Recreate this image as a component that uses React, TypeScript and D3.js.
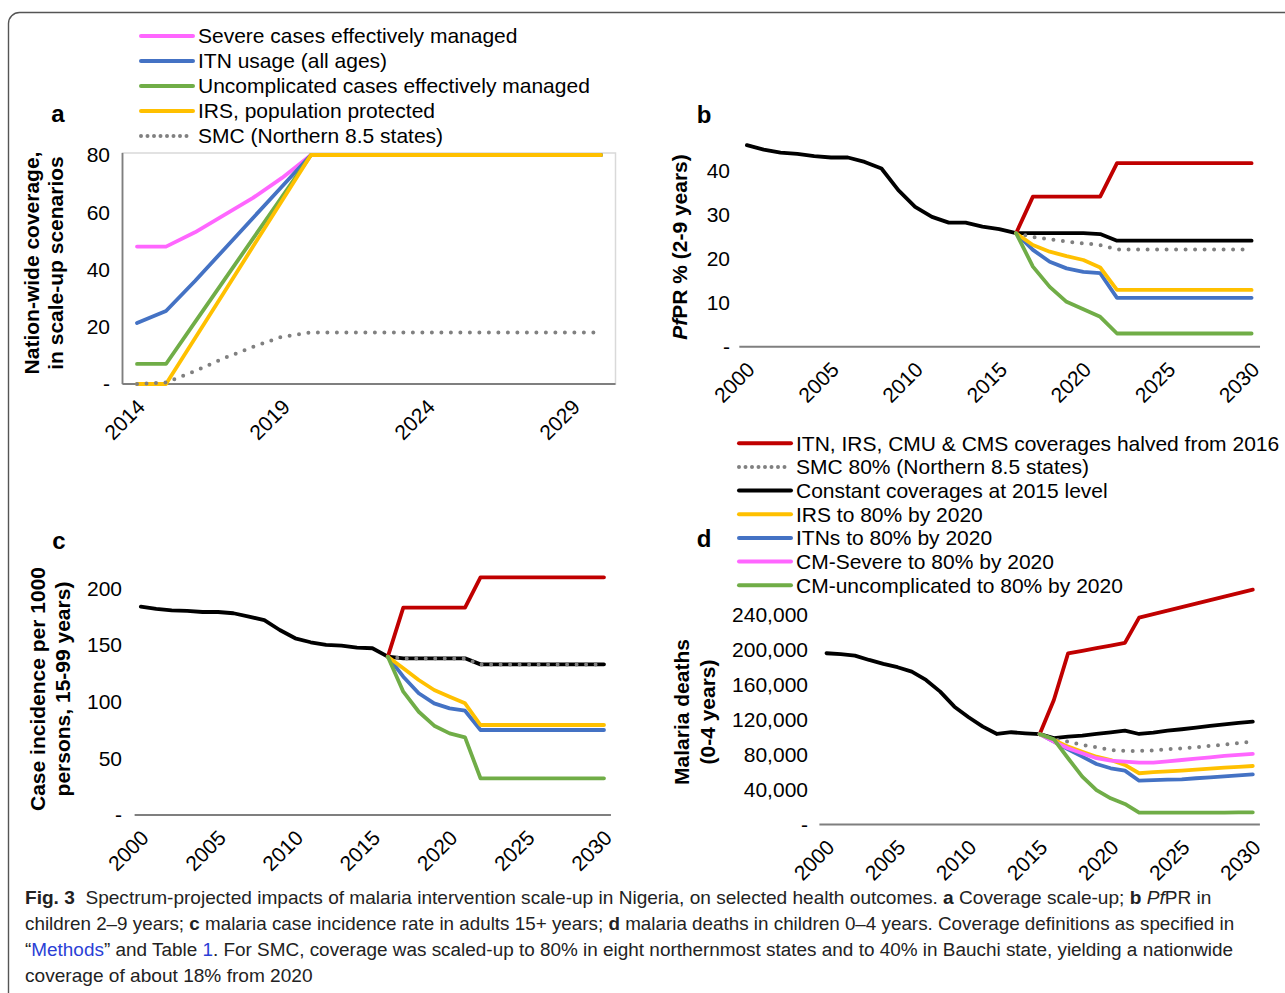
import React, { useLayoutEffect, useRef } from "react";
import * as d3 from "d3";

const FONT = "'Liberation Sans', Arial, Helvetica, sans-serif";

const COL = {
  red: "#c00000",
  grey: "#808080",
  black: "#000000",
  yellow: "#ffc000",
  blue: "#4472c4",
  pink: "#ff66ff",
  green: "#70ad47",
};

// ---------- Panel a: coverage scale-up ----------
const yearsA = [2014, 2015, 2016, 2017, 2018, 2019, 2020, 2021, 2022, 2023, 2024, 2025, 2026, 2027, 2028, 2029, 2030];
const aSevere = [48, 48, 53, 59, 65, 72, 80, 80, 80, 80, 80, 80, 80, 80, 80, 80, 80];
const aITN = [21.3, 25.5, 36, 47, 58, 69, 80, 80, 80, 80, 80, 80, 80, 80, 80, 80, 80];
const aUncomp = [7, 7, 21.6, 36.2, 50.8, 65.4, 80, 80, 80, 80, 80, 80, 80, 80, 80, 80, 80];
const aIRS = [0, 0, 16, 32, 48, 64, 80, 80, 80, 80, 80, 80, 80, 80, 80, 80, 80];
const aSMC = [0, 0.5, 4.5, 9, 13, 16.5, 18, 18, 18, 18, 18, 18, 18, 18, 18, 18, 18];
const aTicksY = [0, 20, 40, 60, 80];
const aTicksX = [2014, 2019, 2024, 2029];
const aLegend = [
  "Severe cases effectively managed",
  "ITN usage (all ages)",
  "Uncomplicated cases effectively managed",
  "IRS, population protected",
  "SMC (Northern 8.5 states)",
];

// ---------- Panels b, c: history 2000-2016, projections 2016-2030 ----------
const histYearsBC = [2000, 2001, 2002, 2003, 2004, 2005, 2006, 2007, 2008, 2009, 2010, 2011, 2012, 2013, 2014, 2015, 2016];
const projYearsBC = [2016, 2017, 2018, 2019, 2020, 2021, 2022, 2023, 2024, 2025, 2026, 2027, 2028, 2029, 2030];

const bHist = [45.8, 44.8, 44.1, 43.8, 43.3, 43.0, 43.0, 42.0, 40.5, 35.6, 31.8, 29.5, 28.2, 28.2, 27.3, 26.7, 25.8];
const bConst = [25.8, 25.8, 25.8, 25.8, 25.8, 25.6, 24.1, 24.1, 24.1, 24.1, 24.1, 24.1, 24.1, 24.1, 24.1];
const bSMC = [25.8, 24.9, 24.4, 23.9, 23.5, 23.1, 22.1, 22.1, 22.1, 22.1, 22.1, 22.1, 22.1, 22.1, 22.1];
const bRed = [25.8, 34.1, 34.1, 34.1, 34.1, 34.1, 41.7, 41.7, 41.7, 41.7, 41.7, 41.7, 41.7, 41.7, 41.7];
const bIRS = [25.8, 23.1, 21.6, 20.6, 19.7, 18.0, 12.9, 12.9, 12.9, 12.9, 12.9, 12.9, 12.9, 12.9, 12.9];
const bITN = [25.8, 22.0, 19.3, 17.8, 17.0, 16.7, 11.1, 11.1, 11.1, 11.1, 11.1, 11.1, 11.1, 11.1, 11.1];
const bCMU = [25.8, 18.2, 13.6, 10.2, 8.5, 6.8, 3.0, 3.0, 3.0, 3.0, 3.0, 3.0, 3.0, 3.0, 3.0];
const bTicksY = [0, 10, 20, 30, 40];

const cHist = [183.8, 181.8, 180.6, 180.0, 179.1, 179.1, 178.0, 175.0, 172.0, 163.2, 155.9, 152.4, 150.0, 149.4, 147.6, 147.1, 139.7];
const cConst = [139.7, 138.2, 138.2, 138.2, 138.2, 138.2, 132.9, 132.9, 132.9, 132.9, 132.9, 132.9, 132.9, 132.9, 132.9];
const cSMC = [139.7, 138.0, 138.0, 138.0, 138.0, 138.0, 132.7, 132.7, 132.7, 132.7, 132.7, 132.7, 132.7, 132.7, 132.7];
const cRed = [139.7, 182.9, 182.9, 182.9, 182.9, 182.9, 209.7, 209.7, 209.7, 209.7, 209.7, 209.7, 209.7, 209.7, 209.7];
const cIRS = [139.7, 129.4, 119.1, 110.3, 104.4, 98.5, 79.4, 79.4, 79.4, 79.4, 79.4, 79.4, 79.4, 79.4, 79.4];
const cITN = [139.7, 122.0, 107.4, 98.5, 94.1, 92.0, 75.0, 75.0, 75.0, 75.0, 75.0, 75.0, 75.0, 75.0, 75.0];
const cCMU = [139.7, 108.8, 91.1, 78.8, 72.0, 68.5, 32.4, 32.4, 32.4, 32.4, 32.4, 32.4, 32.4, 32.4, 32.4];
const cTicksY = [0, 50, 100, 150, 200];

// ---------- Panel d: history 2000-2015, projections 2015-2030 ----------
const histYearsD = [2000, 2001, 2002, 2003, 2004, 2005, 2006, 2007, 2008, 2009, 2010, 2011, 2012, 2013, 2014, 2015];
const projYearsD = [2015, 2016, 2017, 2018, 2019, 2020, 2021, 2022, 2023, 2024, 2025, 2026, 2027, 2028, 2029, 2030];
const dHist = [196200, 195100, 193500, 188500, 184000, 180200, 175100, 165600, 152200, 135000, 122900, 112100, 103700, 105700, 104500, 103500];
const dConst = [103500, 99000, 100600, 101800, 103700, 105600, 107500, 103700, 105200, 107500, 109100, 110900, 112900, 114800, 116300, 117800];
const dSMC = [103500, 97600, 94900, 91100, 88400, 85400, 84200, 84200, 85000, 86200, 87300, 88600, 90000, 91600, 93200, 94900];
const dRed = [103500, 142700, 196000, 199000, 202000, 205000, 208000, 237000, 241000, 245000, 249000, 253000, 257000, 261000, 265000, 269000];
const dIRS = [103500, 96800, 89200, 83400, 77700, 73900, 68200, 58700, 59900, 60800, 61700, 62900, 64000, 65100, 66000, 67000];
const dITN = [103500, 94900, 86200, 77700, 69300, 64400, 61700, 50200, 50900, 51300, 51800, 53000, 54100, 55200, 56300, 57500];
const dSevere = [103500, 94900, 87300, 81600, 75900, 73100, 72000, 70800, 70800, 72400, 73900, 75500, 77000, 78600, 79700, 80800];
const dCMU = [103500, 97500, 75900, 54800, 39500, 30000, 23500, 13500, 13500, 13500, 13500, 13500, 13500, 13500, 14000, 14000];
const dTicksY = [0, 40000, 80000, 120000, 160000, 200000, 240000];

const ticksX = [2000, 2005, 2010, 2015, 2020, 2025, 2030];

const bdLegend = [
  { label: "ITN, IRS, CMU & CMS coverages halved from 2016", color: COL.red, dotted: false },
  { label: "SMC 80% (Northern 8.5 states)", color: COL.grey, dotted: true },
  { label: "Constant coverages at 2015 level", color: COL.black, dotted: false },
  { label: "IRS to 80% by 2020", color: COL.yellow, dotted: false },
  { label: "ITNs to 80% by 2020", color: COL.blue, dotted: false },
  { label: "CM-Severe to 80% by 2020", color: COL.pink, dotted: false },
  { label: "CM-uncomplicated to 80% by 2020", color: COL.green, dotted: false },
];

const zip = (xs: number[], ys: number[]) => xs.map((x, i) => [x, ys[i]] as [number, number]);

function FitText(props: { x: number; y: number; width: number; fontSize: number; children: React.ReactNode }) {
  const ref = useRef<SVGTextElement>(null);
  useLayoutEffect(() => {
    const el = ref.current;
    if (!el) return;
    const w = el.getComputedTextLength();
    const k = w > 0 ? props.width / w : 1;
    el.setAttribute("transform", `translate(${props.x},${props.y}) scale(${k},1)`);
  }, []);
  return (
    <text ref={ref} transform={`translate(${props.x},${props.y})`} fontSize={props.fontSize} fill="#222" style={{ whiteSpace: "pre" }}>
      {props.children}
    </text>
  );
}

type S = { pts: [number, number][]; color: string; dotted?: boolean };

function Lines({ series, x, y }: { series: S[]; x: d3.ScaleLinear<number, number>; y: d3.ScaleLinear<number, number> }) {
  const line = d3.line<[number, number]>().x((d) => x(d[0])).y((d) => y(d[1]));
  return (
    <g fill="none">
      {series.map((s, i) => (
        <path
          key={i}
          d={line(s.pts) || ""}
          stroke={s.color}
          strokeWidth={s.dotted ? 4 : 3.8}
          strokeLinejoin="round"
          strokeLinecap="round"
          strokeDasharray={s.dotted ? "0 9.5" : undefined}
        />
      ))}
    </g>
  );
}

function XLabels({ ticks, x, axisY }: { ticks: number[]; x: d3.ScaleLinear<number, number>; axisY: number }) {
  return (
    <g fontSize={21}>
      {ticks.map((t) => (
        <text key={t} transform={`translate(${x(t) + 4},${axisY + 19}) rotate(-45)`} textAnchor="end" dy="0.35em">
          {t}
        </text>
      ))}
    </g>
  );
}

function YLabels({ ticks, y, right, fmt }: { ticks: number[]; y: d3.ScaleLinear<number, number>; right: number; fmt: (v: number) => string }) {
  return (
    <g fontSize={21} textAnchor="end">
      {ticks.map((t) => (
        <text key={t} x={right} y={y(t)} dy="0.35em">
          {t === 0 ? "-" : fmt(t)}
        </text>
      ))}
    </g>
  );
}

export default function App() {
  // scales
  const xA = d3.scaleLinear().domain([2014, 2030]).range([137, 601]);
  const yA = d3.scaleLinear().domain([0, 80]).range([384, 155]);
  const xB = d3.scaleLinear().domain([2000, 2030]).range([746.9, 1251.6]);
  const yB = d3.scaleLinear().domain([0, 40]).range([346.7, 170.7]);
  const xC = d3.scaleLinear().domain([2000, 2030]).range([140.8, 604]);
  const yC = d3.scaleLinear().domain([0, 200]).range([815, 588.3]);
  const xD = d3.scaleLinear().domain([2000, 2030]).range([826.5, 1252.8]);
  const yD = d3.scaleLinear().domain([0, 240000]).range([824.5, 615]);

  const seriesA: S[] = [
    { pts: zip(yearsA, aSevere), color: COL.pink },
    { pts: zip(yearsA, aITN), color: COL.blue },
    { pts: zip(yearsA, aUncomp), color: COL.green },
    { pts: zip(yearsA, aIRS), color: COL.yellow },
    { pts: zip(yearsA, aSMC), color: COL.grey, dotted: true },
  ];
  const aColors = [COL.pink, COL.blue, COL.green, COL.yellow, COL.grey];

  const seriesB: S[] = [
    { pts: zip(histYearsBC, bHist).concat(zip(projYearsBC, bConst)), color: COL.black },
    { pts: zip(projYearsBC, bSMC), color: COL.grey, dotted: true },
    { pts: zip(projYearsBC, bRed), color: COL.red },
    { pts: zip(projYearsBC, bITN), color: COL.blue },
    { pts: zip(projYearsBC, bIRS), color: COL.yellow },
    { pts: zip(projYearsBC, bCMU), color: COL.green },
  ];
  const seriesC: S[] = [
    { pts: zip(histYearsBC, cHist).concat(zip(projYearsBC, cConst)), color: COL.black },
    { pts: zip(projYearsBC, cSMC), color: COL.grey, dotted: true },
    { pts: zip(projYearsBC, cRed), color: COL.red },
    { pts: zip(projYearsBC, cITN), color: COL.blue },
    { pts: zip(projYearsBC, cIRS), color: COL.yellow },
    { pts: zip(projYearsBC, cCMU), color: COL.green },
  ];
  const seriesD: S[] = [
    { pts: zip(histYearsD, dHist).concat(zip(projYearsD, dConst)), color: COL.black },
    { pts: zip(projYearsD, dSMC), color: COL.grey, dotted: true },
    { pts: zip(projYearsD, dRed), color: COL.red },
    { pts: zip(projYearsD, dITN), color: COL.blue },
    { pts: zip(projYearsD, dIRS), color: COL.yellow },
    { pts: zip(projYearsD, dSevere), color: COL.pink },
    { pts: zip(projYearsD, dCMU), color: COL.green },
  ];

  const axisCol = "#7f7f7f";
  const fmtInt = d3.format("d");
  const fmtComma = d3.format(",");

  return (
    <svg
      width={1285}
      height={993}
      style={{ position: "absolute", left: 0, top: 0, background: "#fff" }}
      fontFamily={FONT}
    >
      <rect x={0} y={0} width={1285} height={993} fill="#fff" />
      {/* outer frame */}
      <rect x={8.5} y={12.5} width={1300} height={1000} rx={11} fill="none" stroke="#555" strokeWidth={1.4} />

      {/* ===== Panel a ===== */}
      <g>
        {aLegend.map((lab, i) => {
          const cy = 36 + i * 25;
          return (
            <g key={lab}>
              <line
                x1={141}
                x2={193}
                y1={cy}
                y2={cy}
                stroke={aColors[i]}
                strokeWidth={4}
                strokeLinecap="round"
                strokeDasharray={i === 4 ? "0 6.5" : undefined}
              />
              <text x={198} y={cy} dy="0.35em" fontSize={21}>
                {lab}
              </text>
            </g>
          );
        })}
        <text x={58} y={122} fontSize={24} fontWeight="bold" textAnchor="middle">a</text>
        <rect x={xA(2013.5)} y={153} width={xA(2030.5) - xA(2013.5)} height={384 - 153} fill="none" stroke="#d9d9d9" strokeWidth={1.5} />
        <line x1={xA(2013.5)} x2={xA(2013.5)} y1={153} y2={384} stroke={axisCol} strokeWidth={1.8} />
        <line x1={xA(2013.5)} x2={xA(2030.5)} y1={384} y2={384} stroke={axisCol} strokeWidth={1.8} />
        <Lines series={seriesA} x={xA} y={yA} />
        <YLabels ticks={aTicksY} y={yA} right={110} fmt={fmtInt} />
        <XLabels ticks={aTicksX} x={xA} axisY={384} />
        <g fontSize={21} fontWeight="bold" textAnchor="middle">
          <text transform="translate(39,263) rotate(-90)">Nation-wide coverage,</text>
          <text transform="translate(63,263) rotate(-90)">in scale-up scenarios</text>
        </g>
      </g>

      {/* ===== Panel b ===== */}
      <g>
        <text x={704} y={123} fontSize={24} fontWeight="bold" textAnchor="middle">b</text>
        <line x1={xB(1999.55)} x2={xB(2030.5)} y1={346.7} y2={346.7} stroke={axisCol} strokeWidth={2} />
        <Lines series={seriesB} x={xB} y={yB} />
        <YLabels ticks={bTicksY} y={yB} right={730} fmt={fmtInt} />
        <XLabels ticks={ticksX} x={xB} axisY={346.7} />
        <text transform="translate(687,247) rotate(-90)" fontSize={21} fontWeight="bold" textAnchor="middle">
          <tspan fontStyle="italic">Pf</tspan>PR % (2-9 years)
        </text>
      </g>

      {/* ===== Legend b-d ===== */}
      <g>
        {bdLegend.map((it, i) => {
          const cy = 443.3 + i * 23.65;
          return (
            <g key={it.label}>
              <line
                x1={739}
                x2={791}
                y1={cy}
                y2={cy}
                stroke={it.color}
                strokeWidth={4}
                strokeLinecap="round"
                strokeDasharray={it.dotted ? "0 6.5" : undefined}
              />
              <text x={796} y={cy} dy="0.35em" fontSize={21}>
                {it.label}
              </text>
            </g>
          );
        })}
      </g>

      {/* ===== Panel c ===== */}
      <g>
        <text x={59} y={549} fontSize={24} fontWeight="bold" textAnchor="middle">c</text>
        <line x1={xC(1999.6)} x2={xC(2030.45)} y1={815} y2={815} stroke={axisCol} strokeWidth={2} />
        <Lines series={seriesC} x={xC} y={yC} />
        <YLabels ticks={cTicksY} y={yC} right={122} fmt={fmtInt} />
        <XLabels ticks={ticksX} x={xC} axisY={815} />
        <g fontSize={21} fontWeight="bold" textAnchor="middle">
          <text transform="translate(45,689) rotate(-90)">Case incidence per 1000</text>
          <text transform="translate(70,689) rotate(-90)">persons, 15-99 years)</text>
        </g>
      </g>

      {/* ===== Panel d ===== */}
      <g>
        <text x={704} y={547} fontSize={24} fontWeight="bold" textAnchor="middle">d</text>
        <line x1={xD(1999.5)} x2={xD(2030.5)} y1={824.5} y2={824.5} stroke={axisCol} strokeWidth={2} />
        <Lines series={seriesD} x={xD} y={yD} />
        <YLabels ticks={dTicksY} y={yD} right={808} fmt={fmtComma} />
        <XLabels ticks={ticksX} x={xD} axisY={824.5} />
        <g fontSize={21} fontWeight="bold" textAnchor="middle">
          <text transform="translate(689,712) rotate(-90)">Malaria deaths</text>
          <text transform="translate(715,712) rotate(-90)">(0-4 years)</text>
        </g>
      </g>

      {/* ===== Caption ===== */}
      <g>
        <FitText x={25} y={904} width={1187} fontSize={19}>
          <tspan fontWeight="bold">Fig. 3</tspan>
          {"  Spectrum-projected impacts of malaria intervention scale-up in Nigeria, on selected health outcomes. "}
          <tspan fontWeight="bold">a</tspan>
          {" Coverage scale-up; "}
          <tspan fontWeight="bold">b</tspan>
          {" "}
          <tspan fontStyle="italic">Pf</tspan>
          {"PR in"}
        </FitText>
        <FitText x={25} y={930} width={1210} fontSize={19}>
          {"children 2–9 years; "}
          <tspan fontWeight="bold">c</tspan>
          {" malaria case incidence rate in adults 15+ years; "}
          <tspan fontWeight="bold">d</tspan>
          {" malaria deaths in children 0–4 years. Coverage definitions as specified in"}
        </FitText>
        <FitText x={25} y={956} width={1209} fontSize={19}>
          {"“"}
          <tspan fill="#2b3fd6">Methods</tspan>
          {"” and Table "}
          <tspan fill="#2b3fd6">1</tspan>
          {". For SMC, coverage was scaled-up to 80% in eight northernmost states and to 40% in Bauchi state, yielding a nationwide"}
        </FitText>
        <FitText x={25} y={982} width={288} fontSize={19}>
          {"coverage of about 18% from 2020"}
        </FitText>
      </g>
    </svg>
  );
}
